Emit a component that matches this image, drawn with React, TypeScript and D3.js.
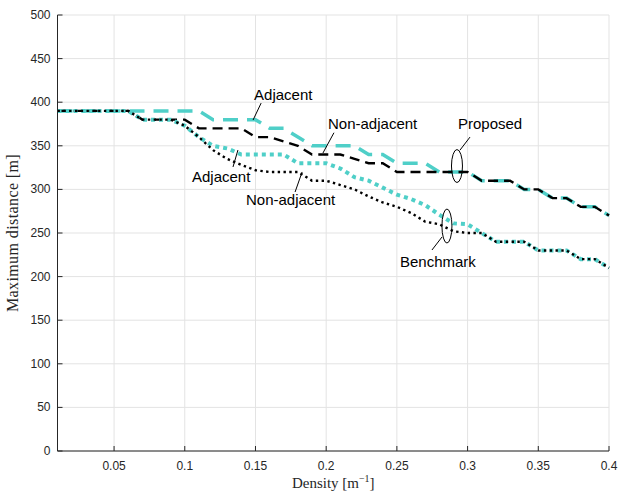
import React from "react";
import * as d3 from "d3";

// density values on the x axis [1/m]
const density = [
  0.01, 0.02, 0.03, 0.04, 0.05, 0.06, 0.07, 0.08, 0.09, 0.1,
  0.11, 0.12, 0.13, 0.14, 0.15, 0.16, 0.17, 0.18, 0.19, 0.2,
  0.21, 0.22, 0.23, 0.24, 0.25, 0.26, 0.27, 0.28, 0.29, 0.3,
  0.31, 0.32, 0.33, 0.34, 0.35, 0.36, 0.37, 0.38, 0.39, 0.4,
];

// maximum distance [m]
const proposedAdjacent = [
  390, 390, 390, 390, 390, 390, 390, 390, 390, 390,
  390, 380, 380, 380, 380, 370, 370, 360, 350, 350,
  350, 350, 340, 340, 330, 330, 330, 320, 320, 320,
  310, 310, 310, 300, 300, 290, 290, 280, 280, 270,
];
const proposedNonAdjacent = [
  390, 390, 390, 390, 390, 390, 380, 380, 380, 380,
  370, 370, 370, 370, 360, 360, 355, 350, 340, 340,
  340, 335, 330, 330, 320, 320, 320, 320, 320, 320,
  310, 310, 310, 300, 300, 290, 290, 280, 280, 270,
];
const benchmarkAdjacent = [
  390, 390, 390, 390, 390, 390, 380, 380, 380, 373,
  360, 350, 347, 340, 340, 340, 340, 330, 330, 330,
  324, 314, 310, 302, 294, 289, 282, 271, 261, 260,
  250, 240, 240, 240, 230, 230, 230, 220, 220, 210,
];
const benchmarkNonAdjacent = [
  390, 390, 390, 390, 390, 390, 380, 380, 380, 373,
  360, 345, 335, 328, 322, 320, 320, 320, 310, 310,
  305, 300, 292, 285, 280, 273, 263, 260, 252, 250,
  250, 240, 240, 240, 230, 230, 230, 220, 220, 210,
];

const xTicks = [0.05, 0.1, 0.15, 0.2, 0.25, 0.3, 0.35, 0.4];
const xTickLabels = ["0.05", "0.1", "0.15", "0.2", "0.25", "0.3", "0.35", "0.4"];
const yTicks = [0, 50, 100, 150, 200, 250, 300, 350, 400, 450, 500];

const W = 619;
const H = 492;
const margin = { left: 57.5, right: 10, top: 15, bottom: 41 };
const cyan = "#4fcfc8";

const series = [
  { values: proposedAdjacent, color: cyan, width: 3.5, dash: "15,9" },
  { values: proposedNonAdjacent, color: "#000", width: 2.4, dash: "10,6" },
  { values: benchmarkAdjacent, color: cyan, width: 4, dash: "4,4" },
  { values: benchmarkNonAdjacent, color: "#000", width: 2.4, dash: "2.4,3.4" },
];

// text labels with leader lines (data coordinates)
const notes = [
  { text: "Adjacent", tx: 0.149, ty: 402.5, from: [0.154, 399], to: [0.1483, 379.6] },
  { text: "Non-adjacent", tx: 0.2013, ty: 369, from: [0.2055, 365], to: [0.1977, 341.7] },
  { text: "Proposed", tx: 0.2932, ty: 369, from: [0.3017, 360], to: [0.2946, 345] },
  { text: "Adjacent", tx: 0.1051, ty: 308.5, from: [0.1341, 325.7], to: [0.1376, 345.2] },
  { text: "Non-adjacent", tx: 0.1433, ty: 282, from: [0.178, 297], to: [0.183, 320] },
  { text: "Benchmark", tx: 0.2522, ty: 211, from: [0.2748, 230.5], to: [0.2819, 245.4] },
];
const ellipses = [
  { cx: 0.2925, cy: 326.8, rx: 5.5, ry: 16.5 },
  { cx: 0.2854, cy: 258, rx: 5, ry: 17 },
];

export default function App() {
  const x = d3.scaleLinear().domain([0.01, 0.4]).range([margin.left, W - margin.right]);
  const y = d3.scaleLinear().domain([0, 500]).range([H - margin.bottom, margin.top]);
  const x0 = x.range()[0];
  const x1 = x.range()[1];
  const y0 = y.range()[0];
  const y1 = y.range()[1];

  const line = (vals: number[]) =>
    d3.line<number>()
      .x((_, i) => x(density[i]))
      .y((d) => y(d))(vals) || "";

  const tickFont = "'Liberation Sans', Arial, sans-serif";
  const labelFont = "'Liberation Serif', 'Times New Roman', serif";

  return (
    <svg
      width={W}
      height={H}
      style={{ position: "absolute", left: 0, top: 0, background: "#fff" }}
    >
      <rect x={0} y={0} width={W} height={H} fill="#fff" />
      {/* grid */}
      <g stroke="#e3e3e3" strokeWidth={1}>
        {xTicks.map((t) => (
          <line key={"gx" + t} x1={x(t)} x2={x(t)} y1={y0} y2={y1} />
        ))}
        {yTicks.map((t) => (
          <line key={"gy" + t} x1={x0} x2={x1} y1={y(t)} y2={y(t)} />
        ))}
      </g>

      {/* series */}
      {series.map((s, i) => (
        <path
          key={i}
          d={line(s.values)}
          fill="none"
          stroke={s.color}
          strokeWidth={s.width}
          strokeDasharray={s.dash}
          strokeLinejoin="miter"
        />
      ))}

      {/* axes */}
      <g stroke="#262626" strokeWidth={1}>
        <line x1={x0} x2={x1} y1={y0} y2={y0} />
        <line x1={x0} x2={x0} y1={y0} y2={y1} />
        {xTicks.map((t) => (
          <line key={"tx" + t} x1={x(t)} x2={x(t)} y1={y0} y2={y0 - 5} />
        ))}
        {yTicks.map((t) => (
          <line key={"ty" + t} x1={x0} x2={x0 + 5} y1={y(t)} y2={y(t)} />
        ))}
      </g>
      <g fontFamily={tickFont} fontSize={12} fill="#262626">
        {xTicks.map((t, i) => (
          <text key={"lx" + t} x={x(t)} y={y0 + 19} textAnchor="middle">
            {xTickLabels[i]}
          </text>
        ))}
        {yTicks.map((t) => (
          <text key={"ly" + t} x={x0 - 7} y={y(t) + 4} textAnchor="end">
            {t}
          </text>
        ))}
      </g>
      <text
        x={(x0 + x1) / 2}
        y={488}
        textAnchor="middle"
        fontFamily={labelFont}
        fontSize={15}
        fill="#262626"
      >
        Density [m
        <tspan dy={-6} fontSize={10}>−1</tspan>
        <tspan dy={6}>]</tspan>
      </text>
      <text
        transform={`translate(18,${(y0 + y1) / 2}) rotate(-90)`}
        textAnchor="middle"
        fontFamily={labelFont}
        fontSize={16}
        letterSpacing={0.4}
        fill="#262626"
      >
        Maximum distance [m]
      </text>

      {/* annotations */}
      <g fontFamily={tickFont} fontSize={15} fill="#000">
        {notes.map((n, i) => (
          <g key={"n" + i}>
            <text x={x(n.tx)} y={y(n.ty)}>{n.text}</text>
            <line
              x1={x(n.from[0])}
              y1={y(n.from[1])}
              x2={x(n.to[0])}
              y2={y(n.to[1])}
              stroke="#000"
              strokeWidth={1}
            />
          </g>
        ))}
        {ellipses.map((e, i) => (
          <ellipse
            key={"e" + i}
            cx={x(e.cx)}
            cy={y(e.cy)}
            rx={e.rx}
            ry={e.ry}
            fill="none"
            stroke="#000"
            strokeWidth={1}
          />
        ))}
      </g>
    </svg>
  );
}
